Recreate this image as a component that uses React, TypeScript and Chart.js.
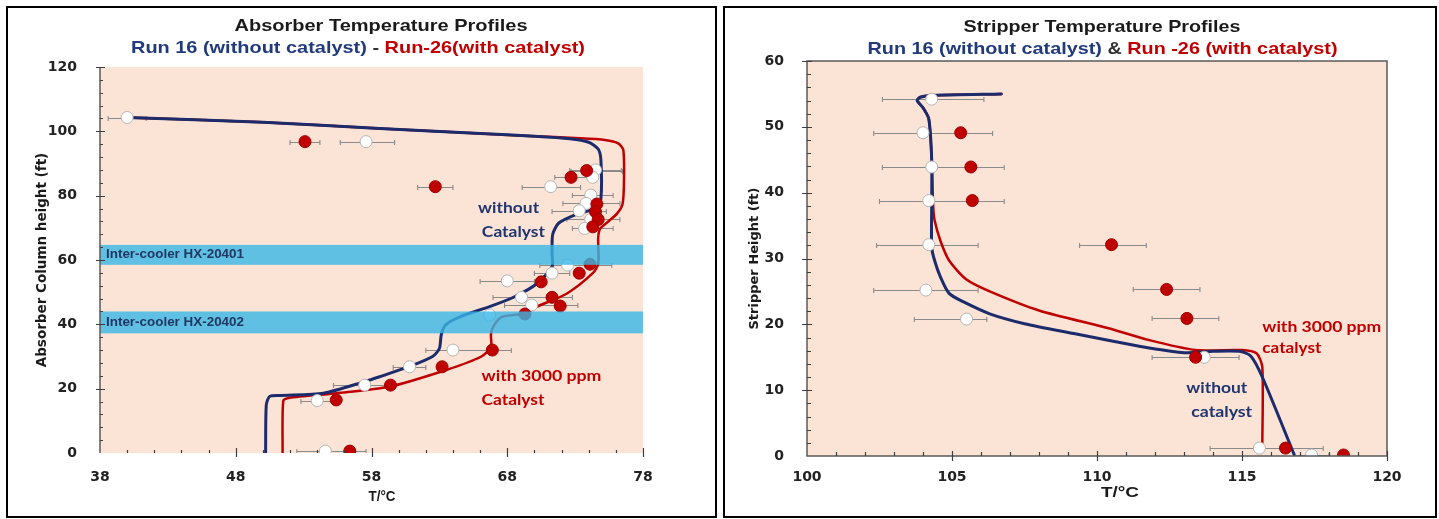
import React, { useEffect, useRef } from "react";
import { Chart, registerables } from "chart.js";

Chart.register(...registerables);

// ---------------- Absorber (left) data ----------------
const absXTicks = [38, 48, 58, 68, 78];
const absYTicks = [0, 20, 40, 60, 80, 100, 120];

// Run 16 (without catalyst) – measured points (open circles)
const absRun16T = [40.0, 57.6, 71.2, 74.5, 74.3, 74.15, 73.8, 73.3, 74.15, 73.7, 72.45, 71.3, 68.0, 69.05, 69.8, 66.7, 64.0, 60.8, 57.5, 54.0, 54.6];
const absRun16H = [104.3, 96.8, 82.8, 88.0, 85.7, 80.2, 77.6, 75.3, 72.6, 69.8, 58.4, 55.9, 53.5, 48.4, 46.0, 42.9, 32.0, 26.8, 21.1, 16.3, 0.6];
const absRun16Lo = [38.6, 55.7, 69.1, 72.6, null, 72.8, 72.1, 71.3, 72.4, 72.8, 70.4, 70.0, 66.0, 66.95, 67.8, null, 62.0, 59.6, 55.2, 52.8, 52.5];
const absRun16Hi = [41.4, 59.7, 73.4, 76.4, null, 75.8, 76.3, 75.3, 76.3, 75.8, 75.7, 72.6, 70.0, 72.8, 73.2, null, 68.3, 62.0, 59.1, 55.2, 57.6];

// Run 26 (with catalyst) – measured points (filled red circles)
const absRun26T = [53.1, 62.7, 72.7, 73.85, 74.6, 74.5, 74.7, 74.3, 74.1, 73.3, 70.5, 71.3, 71.9, 69.3, 66.9, 63.2, 59.4, 55.4, 56.4];
const absRun26H = [96.8, 82.8, 85.7, 87.8, 77.4, 75.0, 72.6, 70.3, 58.7, 55.9, 53.2, 48.4, 45.7, 43.2, 32.0, 26.8, 21.1, 16.5, 0.6];
const absRun26Lo = [52.0, 61.4, 71.5, 72.7, null, null, null, null, null, null, null, null, null, null, null, null, null, null, null];
const absRun26Hi = [54.2, 64.0, 73.9, 76.5, null, null, null, null, null, null, null, null, null, null, null, null, null, null, null];

// Model profiles
const absModel16T = [40.0, 50.0, 58.6, 66.0, 70.0, 72.6, 74.0, 74.7, 74.9, 74.9, 74.6, 73.0, 71.8, 71.35, 71.3, 71.3, 70.2, 68.5, 66.7, 64.6, 63.5, 63.15, 63.0, 62.5, 60.8, 58.6, 57.5, 54.45, 51.2, 50.5, 50.25, 50.2];
const absModel16H = [104.3, 102.8, 100.9, 99.3, 98.5, 97.7, 96.6, 94.5, 91.0, 79.0, 76.3, 74.0, 71.5, 68.0, 62.0, 57.9, 52.7, 48.5, 45.5, 42.5, 40.0, 37.0, 32.5, 30.0, 26.9, 23.7, 22.2, 18.6, 17.9, 17.6, 15.0, 0];
const absModel26T = [40.0, 50.0, 58.6, 66.0, 70.0, 73.0, 75.2, 76.2, 76.55, 76.6, 76.5, 76.1, 75.4, 74.85, 74.7, 74.7, 74.3, 72.4, 70.2, 69.3, 67.6, 67.0, 66.8, 66.8, 66.1, 63.5, 59.3, 55.4, 51.9, 51.5, 51.45];
const absModel26H = [104.3, 102.8, 100.9, 99.3, 98.5, 97.9, 97.3, 96.2, 94.2, 85.0, 77.5, 74.5, 71.8, 69.8, 67.0, 58.8, 55.9, 49.6, 45.5, 43.4, 42.3, 39.5, 37.0, 33.0, 30.0, 25.8, 20.6, 18.6, 17.1, 16.2, 0];

// Inter-cooler zones (height ranges, ft)
const intercoolerLabels = ["Inter-cooler HX-20401", "Inter-cooler HX-20402"];
const intercoolerLow = [58.5, 37.2];
const intercoolerHigh = [64.7, 44.0];

// ---------------- Stripper (right) data ----------------
const strXTicks = [100, 105, 110, 115, 120];
const strYTicks = [0, 10, 20, 30, 40, 50, 60];

const strRun16T = [104.3, 104.0, 104.3, 104.2, 104.2, 104.1, 105.5, 113.7, 115.6, 117.4];
const strRun16H = [54.2, 49.1, 43.9, 38.8, 32.1, 25.2, 20.8, 15.0, 1.2, 0.15];
const strRun16Lo = [102.6, 102.3, 102.6, 102.5, 102.4, 102.3, 103.7, 111.9, 113.9, 116.8];
const strRun16Hi = [106.1, 106.4, 106.8, 106.8, 105.9, 105.9, 106.2, 114.9, 117.8, 118.0];

const strRun26T = [105.3, 105.65, 105.7, 110.5, 112.4, 113.1, 113.4, 116.5, 118.5];
const strRun26H = [49.1, 43.9, 38.8, 32.1, 25.3, 20.9, 15.0, 1.2, 0.15];
const strRun26Lo = [null, null, null, 109.4, 111.25, 111.9, null, null, null];
const strRun26Hi = [null, null, null, 111.7, 113.55, 114.2, null, null, null];

const strModel16T = [106.7, 104.35, 103.9, 103.8, 104.0, 104.2, 104.3, 104.3, 104.3, 104.4, 104.6, 104.9, 105.4, 106.3, 107.5, 109.2, 110.6, 111.8, 113.0, 114.0, 114.9, 115.3, 115.7, 116.8];
const strModel16H = [55.0, 54.8, 54.5, 54.0, 52.9, 51.2, 45.0, 38.0, 31.7, 29.7, 27.2, 24.7, 23.4, 21.6, 20.1, 18.6, 17.4, 16.4, 15.7, 15.9, 15.9, 15.2, 12.0, 0.2];
const strModel26T = [106.7, 104.35, 103.9, 103.8, 104.0, 104.2, 104.3, 104.35, 104.4, 104.6, 104.9, 105.5, 106.3, 108.0, 110.4, 111.8, 113.4, 115.0, 115.5, 115.7, 115.7];
const strModel26H = [55.0, 54.8, 54.5, 54.0, 52.9, 51.2, 45.0, 38.0, 35.8, 32.7, 29.7, 26.8, 25.0, 22.1, 19.4, 17.6, 16.1, 16.1, 15.6, 13.5, 1.4];

// ---------------- styles ----------------
const NAVY = "#1c2b6b";
const RED = "#c00000";
const PEACH = "#fbe4d6";
const TXT_NAVY = "#1f3470";
const TICK_FONT = { family: '"DejaVu Sans", sans-serif', weight: "bold" as const, size: 14 };

type Seg = { text: string; color: string };
type TextItem = { segs: Seg[]; x: number; y: number; font: string; width: number | null; align: "center" | "left" };

function drawFitted(ctx: CanvasRenderingContext2D, t: TextItem, px: number, py: number) {
  ctx.save();
  ctx.font = t.font;
  const widths = t.segs.map((s) => ctx.measureText(s.text).width);
  const total = widths.reduce((a, b) => a + b, 0);
  const sx = t.width ? t.width / total : 1;
  const drawn = total * sx;
  const x0 = t.align === "center" ? px - drawn / 2 : px;
  ctx.translate(x0, py);
  ctx.scale(sx, 1);
  ctx.textBaseline = "middle";
  ctx.textAlign = "left";
  let off = 0;
  t.segs.forEach((s, i) => {
    ctx.fillStyle = s.color;
    ctx.fillText(s.text, off, 0);
    off += widths[i];
  });
  ctx.restore();
}

type DecorCfg = {
  errorBars: { h: number[]; lo: (number | null)[]; hi: (number | null)[] }[];
  bands: { label: string; lo: number; hi: number }[];
  leftLine: boolean;
  frame: boolean;
  ticks: { xMinor: number; xMajor: number; yMinor: number; yMajor: number; minorLen: number; majorIn: number; majorOut: number };
  annotations: TextItem[];
  titles: TextItem[];
};

function makeDecor(cfg: DecorCfg) {
  return {
    id: "decor",
    beforeDraw(chart: any) {
      const { ctx, chartArea: a } = chart;
      ctx.save();
      ctx.fillStyle = PEACH;
      ctx.fillRect(a.left, a.top, a.right - a.left, a.bottom - a.top);
      ctx.restore();
    },
    beforeDatasetsDraw(chart: any) {
      const { ctx, chartArea: a } = chart;
      const xs = chart.scales.x;
      const ys = chart.scales.y;
      ctx.save();
      ctx.beginPath();
      ctx.rect(a.left, a.top, a.right - a.left, a.bottom - a.top);
      ctx.clip();
      ctx.strokeStyle = "#8a8a8a";
      ctx.lineWidth = 1.1;
      for (const eb of cfg.errorBars) {
        for (let i = 0; i < eb.h.length; i++) {
          const lo = eb.lo[i];
          const hi = eb.hi[i];
          if (lo == null || hi == null) continue;
          const py = Math.round(ys.getPixelForValue(eb.h[i])) + 0.5;
          const x1 = xs.getPixelForValue(lo);
          const x2 = xs.getPixelForValue(hi);
          ctx.beginPath();
          ctx.moveTo(x1, py);
          ctx.lineTo(x2, py);
          ctx.moveTo(x1, py - 2.5);
          ctx.lineTo(x1, py + 2.5);
          ctx.moveTo(x2, py - 2.5);
          ctx.lineTo(x2, py + 2.5);
          ctx.stroke();
        }
      }
      ctx.restore();
    },
    afterDatasetsDraw(chart: any) {
      const { ctx, chartArea: a } = chart;
      const xs = chart.scales.x;
      const ys = chart.scales.y;
      ctx.save();
      // inter-cooler bands (translucent, over the curves)
      for (const b of cfg.bands) {
        const yTop = ys.getPixelForValue(b.hi);
        const yBot = ys.getPixelForValue(b.lo);
        ctx.fillStyle = "rgba(58,182,230,0.8)";
        ctx.fillRect(a.left, yTop, a.right - a.left, yBot - yTop);
        drawFitted(ctx, { segs: [{ text: b.label, color: "#1f3864" }], x: 0, y: 0, font: 'bold 12px "Liberation Sans", Arial, sans-serif', width: 138, align: "left" }, a.left + 6, (yTop + yBot) / 2);
      }
      // axis lines / frame
      ctx.strokeStyle = "#5a5a5a";
      ctx.lineWidth = 1.5;
      if (cfg.frame) {
        ctx.strokeRect(a.left, a.top, a.right - a.left, a.bottom - a.top);
      }
      if (cfg.leftLine) {
        ctx.beginPath();
        ctx.moveTo(a.left, a.top);
        ctx.lineTo(a.left, a.bottom);
        ctx.stroke();
      }
      // tick marks (inward minor, crossing major)
      const t = cfg.ticks;
      ctx.lineWidth = 1.2;
      ctx.strokeStyle = "#3f3f3f";
      ctx.beginPath();
      for (let v = xs.min; v <= xs.max + 1e-9; v += t.xMinor) {
        if (v === xs.min) continue;
        const px = Math.round(xs.getPixelForValue(v)) + 0.5;
        const major = Math.abs(((v - xs.min) / t.xMajor) - Math.round((v - xs.min) / t.xMajor)) < 1e-6;
        ctx.moveTo(px, a.bottom + (major ? t.majorOut : 0));
        ctx.lineTo(px, a.bottom - (major ? t.majorIn : t.minorLen));
      }
      for (let v = ys.min; v <= ys.max + 1e-9; v += t.yMinor) {
        if (v === ys.min) continue;
        const py = Math.round(ys.getPixelForValue(v)) + 0.5;
        const major = Math.abs(((v - ys.min) / t.yMajor) - Math.round((v - ys.min) / t.yMajor)) < 1e-6;
        ctx.moveTo(a.left - (major ? t.majorOut : 0), py);
        ctx.lineTo(a.left + (major ? t.majorIn : t.minorLen), py);
      }
      ctx.stroke();
      // annotations in data coordinates
      for (const an of cfg.annotations) {
        drawFitted(ctx, an, xs.getPixelForValue(an.x), ys.getPixelForValue(an.y));
      }
      ctx.restore();
    },
    afterDraw(chart: any) {
      const { ctx } = chart;
      for (const tt of cfg.titles) drawFitted(ctx, tt, tt.x, tt.y);
    },
  };
}

function pts(t: number[], h: number[]) {
  return t.map((v, i) => ({ x: v, y: h[i] }));
}

function datasets(r16T: number[], r16H: number[], r26T: number[], r26H: number[], m16T: number[], m16H: number[], m26T: number[], m26H: number[], radius: number) {
  return [
    {
      label: "Run-26 measured",
      data: pts(r26T, r26H),
      backgroundColor: RED,
      borderColor: "#9e0000",
      borderWidth: 1,
      pointRadius: radius,
      showLine: false,
    },
    {
      label: "Run 16 measured",
      data: pts(r16T, r16H),
      backgroundColor: "#ffffff",
      borderColor: "#b5b5b5",
      borderWidth: 1,
      pointRadius: radius,
      showLine: false,
    },
    {
      label: "Run 16 model",
      data: pts(m16T, m16H),
      borderColor: NAVY,
      borderWidth: 3,
      pointRadius: 0,
      showLine: true,
      tension: 0.25,
      borderJoinStyle: "round",
      borderCapStyle: "round",
    },
    {
      label: "Run-26 model",
      data: pts(m26T, m26H),
      borderColor: RED,
      borderWidth: 2.5,
      pointRadius: 0,
      showLine: true,
      tension: 0.25,
      borderJoinStyle: "round",
      borderCapStyle: "round",
    },
  ];
}

function scales(o: {
  xMin: number; xMax: number; xStep: number; xTicks: number[];
  yMin: number; yMax: number; yStep: number; yTicks: number[];
  yTitle: string; yTitleSize: number; yTitlePad: number;
  yWidth: number; xHeight: number; xPad: number;
}) {
  return {
    x: {
      type: "linear",
      min: o.xMin,
      max: o.xMax,
      afterBuildTicks: (s: any) => { s.ticks = o.xTicks.map((v) => ({ value: v })); },
      ticks: { stepSize: o.xStep, padding: o.xPad, font: TICK_FONT, color: "#222", autoSkip: false, maxRotation: 0 },
      grid: { display: false },
      border: { display: false },
      afterFit: (s: any) => { s.height = o.xHeight; },
    },
    y: {
      type: "linear",
      min: o.yMin,
      max: o.yMax,
      afterBuildTicks: (s: any) => { s.ticks = o.yTicks.map((v) => ({ value: v })); },
      ticks: { stepSize: o.yStep, padding: 15, font: TICK_FONT, color: "#222", autoSkip: false },
      grid: { display: false },
      border: { display: false },
      title: {
        display: true,
        text: o.yTitle,
        color: "#1a1a1a",
        font: { family: '"DejaVu Sans", sans-serif', weight: "bold", size: o.yTitleSize },
        padding: { top: o.yTitlePad, bottom: 0 },
      },
      afterFit: (s: any) => { s.width = o.yWidth; },
    },
  };
}

const TITLE_FONT = 'bold 17px "Liberation Sans", Arial, sans-serif';
const ANN_FONT = 'bold 15px Lato, "Open Sans", sans-serif';

function buildAbsorber() {
  const decor = makeDecor({
    errorBars: [
      { h: absRun16H, lo: absRun16Lo, hi: absRun16Hi },
      { h: absRun26H, lo: absRun26Lo, hi: absRun26Hi },
    ],
    bands: intercoolerLabels.map((label, i) => ({ label, lo: intercoolerLow[i], hi: intercoolerHigh[i] })),
    leftLine: true,
    frame: false,
    ticks: { xMinor: 2, xMajor: 10, yMinor: 4, yMajor: 20, minorLen: 3, majorIn: 5, majorOut: 4 },
    annotations: [
      { segs: [{ text: "without", color: TXT_NAVY }], x: 68.1, y: 76.2, font: ANN_FONT, width: 61, align: "center" },
      { segs: [{ text: "Catalyst", color: TXT_NAVY }], x: 68.45, y: 68.8, font: ANN_FONT, width: 63, align: "center" },
      { segs: [{ text: "with 3000 ppm", color: RED }], x: 66.1, y: 23.9, font: ANN_FONT, width: 120, align: "left" },
      { segs: [{ text: "Catalyst", color: RED }], x: 66.1, y: 16.5, font: ANN_FONT, width: 63, align: "left" },
    ],
    titles: [
      { segs: [{ text: "Absorber Temperature Profiles", color: "#1a1a1a" }], x: 373, y: 18, font: TITLE_FONT, width: 293, align: "center" },
      {
        segs: [
          { text: "Run 16 (without catalyst)", color: "#203a7c" },
          { text: " - ", color: "#333333" },
          { text: "Run-26(with catalyst)", color: RED },
        ],
        x: 350, y: 40, font: TITLE_FONT, width: 454, align: "center",
      },
      { segs: [{ text: "T/°C", color: "#1a1a1a" }], x: 374, y: 489, font: 'bold 14px "Liberation Sans", Arial, sans-serif', width: 27, align: "center" },
    ],
  });
  return {
    type: "scatter",
    data: { datasets: datasets(absRun16T, absRun16H, absRun26T, absRun26H, absModel16T, absModel16H, absModel26T, absModel26H, 6) },
    options: {
      animation: false,
      responsive: false,
      maintainAspectRatio: false,
      events: [],
      layout: { padding: { left: 0, right: 72, top: 59, bottom: 0 } },
      plugins: { legend: { display: false }, tooltip: { enabled: false }, title: { display: false } },
      scales: scales({
        xMin: 38, xMax: 78, xStep: 10, xTicks: absXTicks,
        yMin: 0, yMax: 120, yStep: 20, yTicks: absYTicks,
        yTitle: "Absorber Column height (ft)", yTitleSize: 13.5, yTitlePad: 26,
        yWidth: 92, xHeight: 63, xPad: 8,
      }),
    },
    plugins: [decor],
  };
}

function buildStripper() {
  const decor = makeDecor({
    errorBars: [
      { h: strRun16H, lo: strRun16Lo, hi: strRun16Hi },
      { h: strRun26H, lo: strRun26Lo, hi: strRun26Hi },
    ],
    bands: [],
    leftLine: false,
    frame: true,
    ticks: { xMinor: 1, xMajor: 5, yMinor: 2, yMajor: 10, minorLen: 4, majorIn: 5, majorOut: 5 },
    annotations: [
      { segs: [{ text: "with 3000 ppm", color: RED }], x: 115.7, y: 19.6, font: ANN_FONT, width: 119, align: "left" },
      { segs: [{ text: "catalyst", color: RED }], x: 115.7, y: 16.4, font: ANN_FONT, width: 59, align: "left" },
      { segs: [{ text: "without", color: TXT_NAVY }], x: 114.13, y: 10.3, font: ANN_FONT, width: 61, align: "center" },
      { segs: [{ text: "catalyst", color: TXT_NAVY }], x: 114.3, y: 6.7, font: ANN_FONT, width: 61, align: "center" },
    ],
    titles: [
      { segs: [{ text: "Stripper Temperature Profiles", color: "#1a1a1a" }], x: 377, y: 19.5, font: TITLE_FONT, width: 277, align: "center" },
      {
        segs: [
          { text: "Run 16 (without catalyst)", color: "#203a7c" },
          { text: " & ", color: "#333333" },
          { text: "Run -26 (with catalyst)", color: RED },
        ],
        x: 377.5, y: 41, font: TITLE_FONT, width: 470, align: "center",
      },
      { segs: [{ text: "T/°C", color: "#1a1a1a" }], x: 395, y: 485, font: 'bold 15px "Liberation Sans", Arial, sans-serif', width: 38, align: "center" },
    ],
  });
  return {
    type: "scatter",
    data: { datasets: datasets(strRun16T, strRun16H, strRun26T, strRun26H, strModel16T, strModel16H, strModel26T, strModel26H, 6) },
    options: {
      animation: false,
      responsive: false,
      maintainAspectRatio: false,
      events: [],
      layout: { padding: { left: 0, right: 48, top: 53, bottom: 0 } },
      plugins: { legend: { display: false }, tooltip: { enabled: false }, title: { display: false } },
      scales: scales({
        xMin: 100, xMax: 120, xStep: 5, xTicks: strXTicks,
        yMin: 0, yMax: 60, yStep: 10, yTicks: strYTicks,
        yTitle: "Stripper Height (ft)", yTitleSize: 13, yTitlePad: 21.8,
        yWidth: 82, xHeight: 60, xPad: 5,
      }),
    },
    plugins: [decor],
  };
}

function ChartPanel(props: { left: number; top: number; width: number; height: number; build: () => any }) {
  const ref = useRef<HTMLCanvasElement>(null);
  useEffect(() => {
    const chart = new Chart(ref.current as HTMLCanvasElement, props.build());
    return () => chart.destroy();
  }, []);
  return (
    <div
      style={{
        position: "absolute",
        left: props.left,
        top: props.top,
        width: props.width,
        height: props.height,
        border: "2px solid #000",
        boxSizing: "border-box",
        background: "#fff",
      }}
    >
      <canvas ref={ref} width={props.width - 4} height={props.height - 4} style={{ display: "block" }} />
    </div>
  );
}

export default function App() {
  return (
    <div style={{ position: "absolute", left: 0, top: 0, width: 1439, height: 519, background: "#fff", overflow: "hidden" }}>
      <ChartPanel left={6} top={6} width={711} height={512} build={buildAbsorber} />
      <ChartPanel left={723} top={6} width={714} height={512} build={buildStripper} />
    </div>
  );
}
